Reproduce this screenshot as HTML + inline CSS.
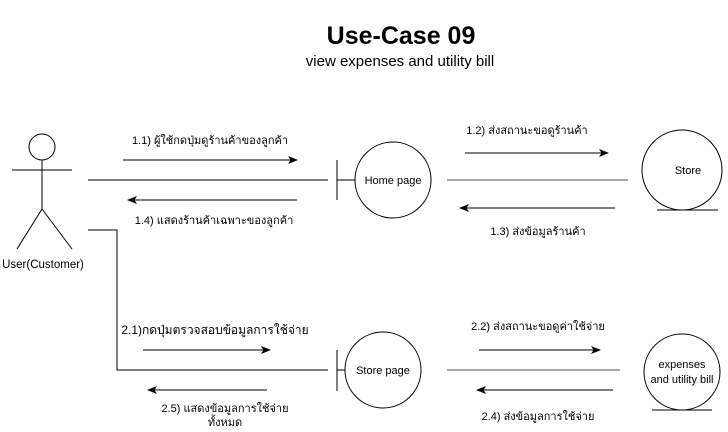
<!DOCTYPE html>
<html><head><meta charset="utf-8"><style>
html,body{margin:0;padding:0;background:#fff;width:728px;height:432px;overflow:hidden}
text{font-family:"Liberation Sans","Noto Sans CJK SC",sans-serif;fill:#000}
</style></head><body>
<svg width="728" height="432" viewBox="0 0 728 432" xmlns="http://www.w3.org/2000/svg">
<defs><marker id="a" markerWidth="10" markerHeight="8" refX="9" refY="4" orient="auto" markerUnits="userSpaceOnUse"><path d="M0,0 L10,4 L0,8 L2.5,4 z" fill="#000"/></marker></defs>
<text x="401" y="44" font-size="25" font-weight="bold" text-anchor="middle">Use-Case 09</text>
<text x="400" y="66" font-size="15" text-anchor="middle">view expenses and utility bill</text>
<g stroke="#000" stroke-width="1" fill="none">
<circle cx="42" cy="147" r="13"/>
<line x1="42" y1="160" x2="42" y2="209"/>
<line x1="12" y1="170" x2="72" y2="170"/>
<line x1="42" y1="209" x2="17" y2="249"/>
<line x1="42" y1="209" x2="72" y2="249"/>
<line x1="88" y1="180" x2="328" y2="180"/>
<line x1="337" y1="160" x2="337" y2="200"/>
<line x1="337" y1="180" x2="355" y2="180"/>
<circle cx="393" cy="180" r="38"/>
<line x1="447" y1="180" x2="628" y2="180" stroke="#555"/>
<circle cx="682" cy="170" r="40"/>
<line x1="657" y1="210" x2="718" y2="210"/>
<polyline points="88,230 117,230 117,370 328,370"/>
<line x1="337" y1="350" x2="337" y2="391"/>
<line x1="337" y1="370" x2="345" y2="370"/>
<circle cx="383" cy="370" r="38"/>
<line x1="447" y1="370" x2="620" y2="370" stroke="#555"/>
<circle cx="682" cy="372" r="38"/>
<line x1="652" y1="410" x2="712" y2="410"/>
<line x1="123" y1="160" x2="297" y2="160" marker-end="url(#a)"/>
<line x1="297" y1="200" x2="128" y2="200" marker-end="url(#a)"/>
<line x1="465" y1="153" x2="608" y2="153" marker-end="url(#a)"/>
<line x1="615" y1="208" x2="460" y2="208" marker-end="url(#a)"/>
<line x1="143" y1="350" x2="270" y2="350" marker-end="url(#a)"/>
<line x1="267" y1="390" x2="148" y2="390" marker-end="url(#a)"/>
<line x1="479" y1="350" x2="600" y2="350" marker-end="url(#a)"/>
<line x1="613" y1="390" x2="477" y2="390" marker-end="url(#a)"/>
</g>
<g font-size="11">
<text x="43" y="268" text-anchor="middle" font-size="11.5">User(Customer)</text>
<text x="393" y="184" text-anchor="middle">Home page</text>
<text x="688" y="174" text-anchor="middle">Store</text>
<text x="383" y="374" text-anchor="middle">Store page</text>
<text x="682" y="368" text-anchor="middle">expenses</text>
<text x="682" y="383" text-anchor="middle">and utility bill</text>
<text x="210" y="144" text-anchor="middle">1.1) ผู้ใช้กดปุ่มดูร้านค้าของลูกค้า</text>
<text x="214" y="224" text-anchor="middle">1.4) แสดงร้านค้าเฉพาะของลูกค้า</text>
<text x="527" y="134" text-anchor="middle">1.2) ส่งสถานะขอดูร้านค้า</text>
<text x="538" y="235" text-anchor="middle">1.3) ส่งข้อมูลร้านค้า</text>
<text x="215" y="334" text-anchor="middle" font-size="12">2.1)กดปุ่มตรวจสอบข้อมูลการใช้จ่าย</text>
<text x="225" y="412" text-anchor="middle">2.5) แสดงข้อมูลการใช้จ่าย</text>
<text x="225" y="426" text-anchor="middle">ทั้งหมด</text>
<text x="538" y="330" text-anchor="middle">2.2) ส่งสถานะขอดูค่าใช้จ่าย</text>
<text x="538" y="420" text-anchor="middle">2.4) ส่งข้อมูลการใช้จ่าย</text>
</g>
</svg>
</body></html>
